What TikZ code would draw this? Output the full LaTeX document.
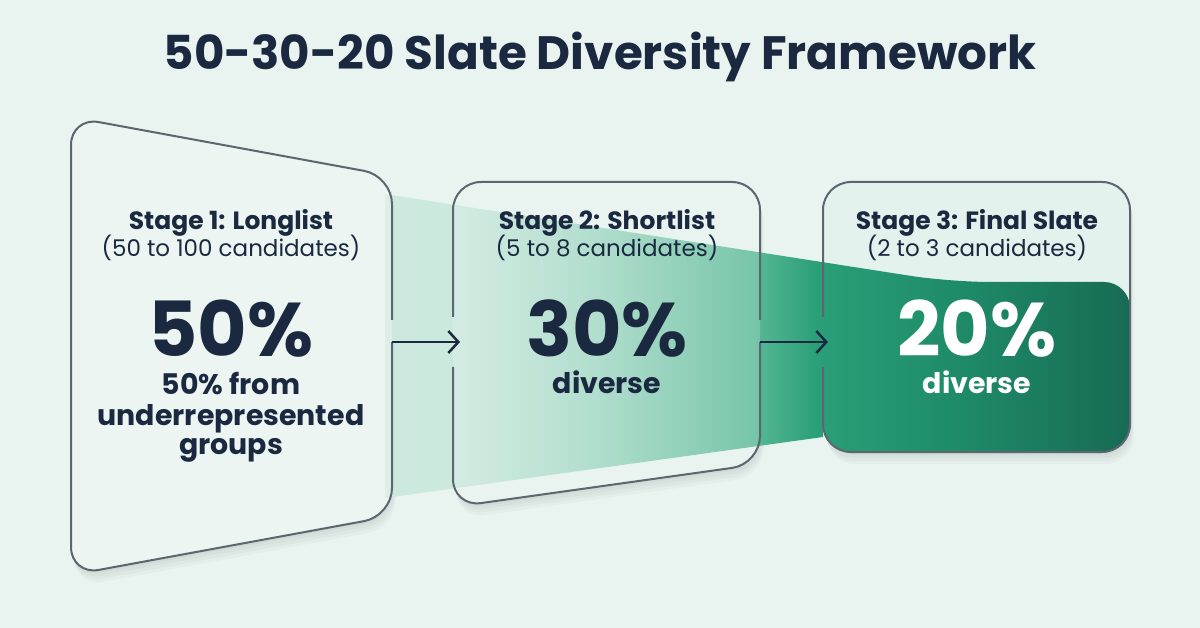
\documentclass[tikz,border=0pt]{standalone}
\usepackage{fontspec}
\setmainfont{Poppins}
\usetikzlibrary{arrows.meta}
\definecolor{bg}{HTML}{E9F4F0}
\definecolor{boxin}{HTML}{E4F2ED}
\definecolor{edge}{HTML}{5B6670}
\definecolor{ink}{HTML}{1B2940}
\definecolor{g0}{HTML}{CDE8DE}
\definecolor{g1}{HTML}{CCE9DE}
\definecolor{g2}{HTML}{9FD6C2}
\definecolor{g3}{HTML}{55B794}
\definecolor{g4}{HTML}{2A9F78}
\definecolor{g5}{HTML}{1F8C69}
\definecolor{g6}{HTML}{176B54}
\pgfdeclarehorizontalshading{bandshade}{100bp}{color(0bp)=(g0); color(25bp)=(g0); color(29bp)=(g1); color(39bp)=(g2); color(50bp)=(g3); color(54bp)=(g4); color(63bp)=(g5); color(75bp)=(g6); color(100bp)=(g6)}
\begin{document}
\begin{tikzpicture}[x=1pt,y=-1pt,
  boxedge/.style={draw=edge, line width=2pt, rounded corners=28pt},
  boxfill/.style={fill=boxin, rounded corners=28pt},
  boxglass/.style={fill=white, fill opacity=0.3, rounded corners=28pt},
  boxshadow/.style={fill=black, fill opacity=0.025, rounded corners=28pt},
  conn/.style={draw=ink, line width=2.5pt, -{Straight Barb[length=10pt,width=22pt]}},
  titletext/.style={font=\fontsize{46.8}{52}\selectfont\bfseries, text=ink, anchor=base, inner sep=0pt},
  stagehead/.style={font=\fontsize{25}{28}\selectfont\bfseries, text=ink, anchor=base, inner sep=0pt},
  stagesub/.style={font=\fontsize{23}{26}\selectfont, text=ink, anchor=base, inner sep=0pt},
  bignum/.style={font=\fontsize{76}{80}\selectfont\bfseries, text=ink, anchor=base, inner sep=0pt, text depth=0pt},
  desc/.style={font=\fontsize{28.4}{31}\selectfont\bfseries, text=ink, anchor=base, inner sep=0pt, text height=19pt}]
\useasboundingbox[fill=bg] (0,0) rectangle (1200,628);

% title
\node[titletext] (title) at (600,70) {50-30-20 Slate Diversity Framework};

% soft shadows
\foreach \d in {3,6,9,12}{
  \path[boxshadow, shift={(0.3*\d,\d)}] (71,117) -- (392,176) -- (392,516) -- (71,575) -- cycle;
  \path[boxshadow, shift={(0.3*\d,\d)}] (453,182) -- (760,182) -- (760,464) -- (453,507) -- cycle;
  \path[boxshadow, shift={(0.3*\d,\d)}] (823,182) -- (1130,182) -- (1130,452) -- (823,452) -- cycle;
}

% box fills
\path[boxfill] (71,117) -- (392,176) -- (392,516) -- (71,575) -- cycle;
\path[boxfill] (453,182) -- (760,182) -- (760,464) -- (453,507) -- cycle;
\path[boxfill] (823,182) -- (1130,182) -- (1130,452) -- (823,452) -- cycle;

% green band
\path[shading=bandshade]
  (385,194) [rounded corners=40pt] -- (950,282) [rounded corners=26pt] -- (1130,282) -- (1130,452) -- (823,452) [sharp corners] -- (823,437) -- (385,498) -- cycle;

% glass over the band
\path[boxglass] (71,117) -- (392,176) -- (392,516) -- (71,575) -- cycle;
\path[boxglass, fill opacity=0.2] (453,182) -- (760,182) -- (760,464) -- (453,507) -- cycle;

% box outlines (with gaps for the connectors)
\draw[boxedge] (392,342) -- (392,516) -- (71,575) -- (71,117) -- (392,176) -- (392,320);
\draw[boxedge] (453,317) -- (453,182) -- (760,182) -- (760,320);
\draw[boxedge] (760,342) -- (760,464) -- (453,507) -- (453,367);
\draw[boxedge] (823,367) -- (823,452) -- (1130,452) -- (1130,182) -- (823,182) -- (823,317);

% connectors
\coordinate (s1out) at (392,342);
\coordinate (s2in) at (460,342);
\coordinate (s2out) at (760,342);
\coordinate (s3in) at (828,342);
\draw[conn] (s1out) -- (s2in);
\draw[conn] (s2out) -- (s3in);

% stage 1 text
\node[stagehead] (h1) at (231,230) {Stage 1: Longlist};
\node[stagesub] (u1) at (231,257) {(50 to 100 candidates)};
\node[bignum] (n1) at (231,357) {50\%};
\node[desc] (d1a) at (231,395) {50\% from};
\node[desc] (d1b) at (231,425) {underrepresented};
\node[desc] (d1c) at (231,454) {groups};

% stage 2 text
\node[stagehead] (h2) at (607,230) {Stage 2: Shortlist};
\node[stagesub] (u2) at (607,257) {(5 to 8 candidates)};
\node[bignum] (n2) at (607,357) {30\%};
\node[desc] (d2) at (607,393) {diverse};

% stage 3 text
\node[stagehead] (h3) at (977,230) {Stage 3: Final Slate};
\node[stagesub] (u3) at (977,257) {(2 to 3 candidates)};
\node[bignum, text=white] (n3) at (977,357) {20\%};
\node[desc, text=white] (d3) at (977,393) {diverse};
\end{tikzpicture}
\end{document}
